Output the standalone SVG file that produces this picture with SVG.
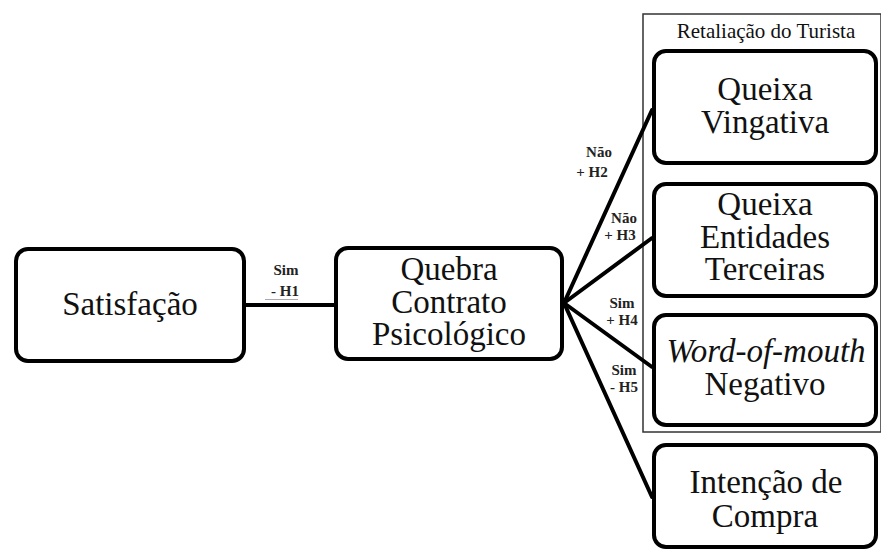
<svg xmlns="http://www.w3.org/2000/svg" width="881" height="552" viewBox="0 0 881 552">
<style>
  .box { fill: #fff; stroke: #000; stroke-width: 4; }
  .t { font-size: 33px; fill: #111; text-anchor: middle; }
  .lbl { font-size: 15px; font-weight: bold; fill: #222; text-anchor: middle; }
  .conn { stroke: #000; stroke-width: 4; fill: none; stroke-linecap: round; }
</style>
<rect width="881" height="552" fill="#fff"/>
<g font-family="Liberation Serif, Tinos, DejaVu Serif, serif">
<g id="frame-retaliacao">
  <rect x="643" y="14" width="238" height="418" fill="none" stroke="#333" stroke-width="1.5"/>
  <text x="766" y="38" font-size="21" fill="#111" text-anchor="middle">Retaliação do Turista</text>
</g>
<g id="connectors">
  <line class="conn" x1="245" y1="305" x2="336" y2="305"/>
  <line class="conn" x1="564" y1="303" x2="652" y2="110"/>
  <line class="conn" x1="564" y1="303" x2="652" y2="238"/>
  <line class="conn" x1="564" y1="303" x2="652" y2="367"/>
  <line class="conn" x1="564" y1="303" x2="652" y2="497"/>
  <text class="lbl" x="286" y="275">Sim</text>
  <text class="lbl" x="285" y="296">- H1</text>
  <line x1="265" y1="299.5" x2="298" y2="299.5" stroke="#aaa" stroke-width="1"/>
  <text class="lbl" x="599" y="157">Não</text>
  <text class="lbl" x="592" y="177">+ H2</text>
  <text class="lbl" x="624" y="223">Não</text>
  <text class="lbl" x="620" y="240">+ H3</text>
  <text class="lbl" x="622" y="308">Sim</text>
  <text class="lbl" x="622" y="325">+ H4</text>
  <text class="lbl" x="624" y="375">Sim</text>
  <text class="lbl" x="624" y="392">- H5</text>
</g>
<g id="node-satisfacao">
  <rect class="box" x="16" y="249" width="228" height="112" rx="12"/>
  <text class="t" x="130" y="315">Satisfação</text>
</g>
<g id="node-quebra">
  <rect class="box" x="336" y="248" width="226" height="111" rx="12"/>
  <text class="t" x="449" y="280">Quebra</text>
  <text class="t" x="449" y="313">Contrato</text>
  <text class="t" x="449" y="345">Psicológico</text>
</g>
<g id="node-queixa-vingativa">
  <rect class="box" x="654" y="51" width="222" height="112" rx="12"/>
  <text class="t" x="765" y="100">Queixa</text>
  <text class="t" x="765" y="133">Vingativa</text>
</g>
<g id="node-queixa-entidades">
  <rect class="box" x="654" y="184" width="222" height="112" rx="12"/>
  <text class="t" x="765" y="215">Queixa</text>
  <text class="t" x="765" y="248">Entidades</text>
  <text class="t" x="765" y="280">Terceiras</text>
</g>
<g id="node-wom">
  <rect class="box" x="654" y="315" width="222" height="110" rx="12"/>
  <text class="t" x="766" y="362" font-style="italic">Word-of-mouth</text>
  <text class="t" x="765" y="395">Negativo</text>
</g>
<g id="node-intencao">
  <rect class="box" x="654" y="445" width="222" height="102" rx="12"/>
  <text class="t" x="766" y="493">Intenção de</text>
  <text class="t" x="765" y="527">Compra</text>
</g>
</g>
</svg>
